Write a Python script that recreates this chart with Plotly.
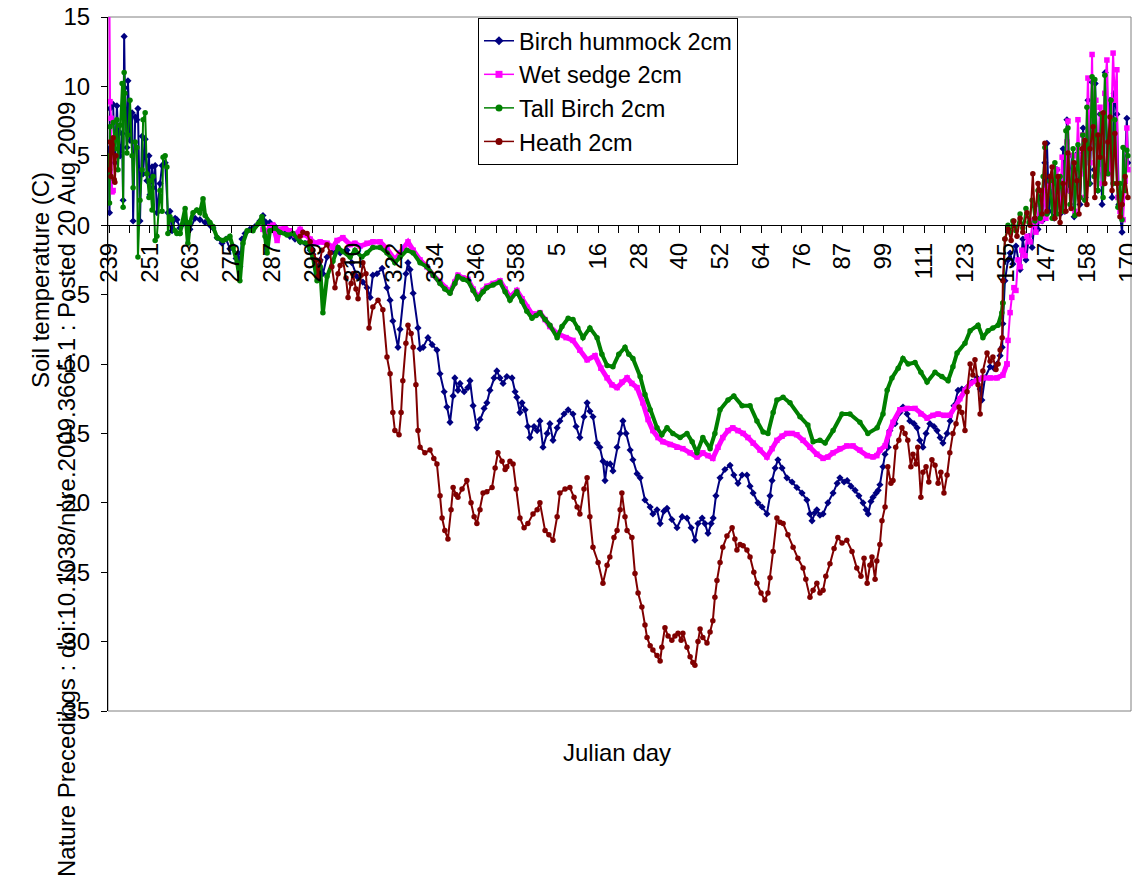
import plotly.graph_objects as go

# ---------------- data (day offset since Julian day 239, temperature in C) ----------------
JULIAN_LABELS = ["239", "251", "263", "275", "287", "299", "310", "322", "334", "346", "358",
                 "5", "16", "28", "40", "52", "64", "76", "87", "99", "111", "123", "135",
                 "147", "158", "170"]
SAMPLES_PER_LABEL = 71      # four-hourly readings between labelled categories
SAMPLES_PER_DAY = 6

Y_TICKS = [15, 10, 5, 0, -5, -10, -15, -20, -25, -30, -35]
Y_TICK_TEXT = ["15", "10", "5", "0", "-5", "-10", "-15", "-20", "-25", "-30", "-35"]

BIRCH_HUMMOCK = [
    (0.0, 5.5), (0.15, 0.9), (0.3, 8.4), (1.2, 8.7), (1.7, 4.5), (2.3, 8.6), (2.6, 6.8), (3.2, 5.0), (3.8, 6.6), (4.1, 1.8),
    (4.4, 13.6), (4.6, 9.9), (5.2, 5.6), (5.5, 10.4), (6.1, 6.1), (6.7, 8.1), (7.0, 0.3), (7.6, 7.8), (8.1, 7.6), (8.4, 8.4),
    (9.0, 0.3), (9.6, 6.4), (9.9, 3.7), (10.5, 6.2), (11.0, 3.2), (11.6, 5.0), (11.9, 2.2), (12.5, 4.2), (12.8, 2.7), (13.4, 4.3),
    (13.9, 0.9), (14.8, 3.0), (15.4, 4.3), (16.3, 4.5), (17.1, 0.9), (17.7, 1.0), (18.3, -0.4), (19.2, 0.5), (19.7, 0.4), (20.6, -0.2),
    (21.5, 0.1), (22.1, 0.2), (23.5, -0.3), (25.0, 0.5), (26.4, 0.4), (27.9, 0.2), (29.3, 0.0), (30.2, -0.2), (31.4, -0.9), (32.8, -1.3),
    (34.0, -1.0), (35.1, -1.7), (36.0, -1.5), (36.9, -2.4), (37.5, -2.0), (38.0, -3.0), (38.6, -1.0), (39.5, -0.6), (40.9, -0.3), (42.4, -0.1),
    (43.8, 0.3), (44.7, 0.7), (45.6, 0.2), (46.7, 0.2), (48.2, -0.1), (49.6, -0.4), (51.1, -0.3), (52.5, -0.8), (54.0, -1.0), (55.5, -1.2),
    (56.9, -1.3), (58.4, -1.8), (59.2, -2.1), (60.4, -3.0), (61.3, -2.5), (62.1, -3.5), (63.3, -2.3), (65.0, -1.9), (66.2, -1.8), (67.1, -2.0),
    (69.1, -1.8), (70.5, -2.7), (72.0, -3.7), (73.7, -4.1), (74.9, -4.5), (75.8, -5.2), (76.6, -3.6), (77.8, -3.5), (79.3, -3.1), (80.7, -4.5),
    (81.6, -5.4), (82.4, -6.9), (83.9, -8.8), (84.5, -7.5), (85.4, -5.2), (86.2, -3.5), (86.8, -2.7), (87.4, -3.2), (88.3, -4.9), (89.7, -7.4),
    (90.3, -8.9), (91.2, -8.8), (92.6, -8.1), (93.8, -8.6), (95.2, -9.0), (96.1, -10.7), (97.3, -12.0), (98.1, -13.1), (99.0, -14.2), (99.9, -12.3),
    (100.4, -11.0), (101.3, -11.9), (101.9, -11.4), (103.1, -12.0), (104.2, -11.7), (104.8, -11.2), (105.7, -13.0), (106.8, -14.6), (107.7, -14.0), (108.9, -13.2),
    (109.7, -12.8), (110.6, -11.9), (111.8, -11.0), (112.6, -10.5), (113.5, -11.0), (114.4, -11.4), (115.5, -10.9), (117.0, -11.0), (117.9, -12.0), (118.4, -12.4),
    (119.3, -13.5), (119.9, -12.8), (120.8, -13.3), (121.6, -14.5), (122.2, -15.3), (123.4, -14.5), (124.3, -14.8), (125.1, -14.1), (126.0, -16.0), (127.2, -15.0),
    (128.0, -14.3), (128.9, -15.5), (130.1, -14.6), (130.9, -14.1), (132.1, -13.6), (133.3, -13.3), (134.7, -13.6), (135.6, -14.5), (136.7, -15.3), (137.9, -13.8),
    (138.8, -12.8), (139.6, -13.4), (140.5, -13.8), (141.7, -15.7), (142.5, -16.0), (143.4, -17.0), (144.0, -18.4), (144.6, -17.2), (145.5, -17.2), (146.3, -17.7),
    (147.5, -16.0), (148.4, -15.0), (149.2, -14.1), (150.1, -15.0), (151.3, -16.2), (152.1, -16.9), (153.3, -17.9), (154.2, -18.2), (155.6, -19.8), (157.1, -20.3),
    (157.9, -20.8), (159.1, -20.5), (160.0, -21.5), (161.1, -20.6), (162.0, -20.4), (163.4, -21.2), (164.9, -21.8), (166.4, -21.0), (167.8, -21.1), (169.0, -21.8),
    (170.1, -22.7), (171.0, -21.5), (172.2, -21.1), (173.0, -21.5), (173.9, -22.2), (174.8, -21.5), (175.4, -21.1), (176.2, -19.5), (177.4, -18.2), (178.8, -17.6),
    (180.3, -17.3), (181.4, -18.0), (182.6, -18.6), (183.8, -18.0), (185.2, -18.0), (186.1, -18.8), (187.0, -19.3), (188.4, -20.0), (189.6, -20.3), (191.0, -20.8),
    (191.9, -19.5), (192.5, -18.4), (193.4, -17.5), (194.2, -16.9), (195.4, -17.5), (196.8, -18.2), (198.3, -18.5), (199.7, -18.9), (201.2, -19.3), (202.6, -19.8),
    (203.5, -20.8), (204.1, -21.3), (205.0, -20.7), (205.5, -20.5), (206.4, -20.9), (207.3, -20.8), (208.7, -20.0), (210.2, -19.3), (211.4, -18.6), (212.2, -18.2),
    (213.4, -18.5), (214.3, -18.4), (215.4, -18.8), (216.6, -19.1), (217.7, -19.5), (218.9, -20.0), (219.8, -20.5), (220.4, -20.8), (221.2, -19.9), (221.8, -19.6),
    (222.7, -19.3), (223.3, -19.1), (223.8, -18.7), (224.7, -17.4), (225.3, -16.5), (226.2, -16.0), (226.7, -14.8), (228.2, -14.3), (229.6, -13.5), (230.5, -13.1),
    (231.7, -13.6), (232.5, -14.1), (233.7, -14.3), (234.6, -14.6), (235.4, -15.5), (236.3, -16.0), (237.2, -15.0), (238.3, -14.3), (239.5, -14.5), (240.4, -14.8),
    (241.3, -15.3), (242.1, -15.7), (243.3, -15.0), (244.2, -14.1), (245.3, -13.0), (246.5, -11.9), (247.6, -11.8), (249.1, -11.7), (250.5, -11.3), (252.0, -11.0),
    (252.9, -11.8), (253.4, -12.6), (254.3, -11.0), (255.8, -10.2), (256.9, -10.3), (257.8, -10.0), (258.7, -9.4), (259.3, -8.8), (259.5, -7.1), (260.1, -4.0),
    (261.0, -2.5), (261.6, -2.0), (262.4, -2.8), (263.3, -1.5), (264.5, -3.2), (265.3, -1.0), (266.2, -2.5), (267.1, -0.8), (268.0, -1.6), (268.8, 0.5),
    (269.7, -0.3), (270.3, 2.0), (270.9, 0.3), (271.7, 4.5), (272.3, 5.9), (272.9, 1.0), (273.8, 3.2), (274.4, 0.5), (275.2, 4.0), (276.1, 0.8),
    (277.0, 5.5), (277.5, 1.0), (278.1, 7.6), (278.7, 2.5), (279.6, 5.0), (280.2, 0.6), (281.3, 5.2), (281.9, 1.5), (282.8, 7.0), (283.4, 2.0),
    (284.2, 9.0), (284.8, 3.0), (285.4, 10.3), (286.0, 4.0), (286.3, 10.2), (287.1, 2.5), (287.7, 8.0), (288.3, 1.5), (289.2, 11.0), (289.7, 4.0),
    (290.6, 9.0), (291.2, 2.0), (291.8, 9.5), (292.6, 8.0), (293.2, 1.5), (294.1, -0.5), (294.7, 3.0), (295.5, 7.7), (295.8, 4.5),
]

WET_SEDGE = [
    (0.1, 17.0), (0.3, 8.9), (0.6, 7.7), (0.9, 2.4), (1.2, 2.5), (20.0, None),
    (44.7, -0.3), (45.9, -0.5), (46.7, -0.1), (47.6, 0.0), (48.8, -1.1), (49.6, -0.3), (51.1, -0.2), (52.5, -0.4), (54.0, -0.7), (55.5, -0.3),
    (56.9, -0.7), (58.4, -1.0), (59.8, -1.3), (61.3, -1.2), (63.3, -1.3), (65.0, -1.6), (66.2, -1.1), (67.9, -0.9), (70.0, -1.4), (71.4, -1.3),
    (72.9, -1.5), (74.9, -1.3), (76.6, -1.2), (78.7, -1.2), (80.7, -1.7), (83.0, -2.5), (84.5, -2.0), (86.8, -1.2), (88.3, -1.8), (90.3, -2.5),
    (92.3, -3.0), (94.1, -3.6), (96.1, -4.1), (97.5, -4.5), (99.0, -4.8), (100.4, -4.1), (101.3, -3.6), (102.8, -3.8), (104.2, -3.9), (105.7, -4.6),
    (107.1, -5.2), (108.6, -4.7), (109.7, -4.4), (111.5, -4.2), (113.5, -4.0), (115.0, -4.6), (116.4, -5.2), (118.4, -4.7), (119.9, -5.3), (121.3, -5.9),
    (122.8, -6.4), (124.0, -6.4), (125.1, -6.3), (126.6, -6.8), (128.0, -7.3), (130.1, -7.8), (132.7, -8.1), (134.7, -8.3), (136.7, -9.0), (138.8, -9.7),
    (141.1, -9.4), (142.8, -10.3), (144.6, -11.0), (146.0, -11.5), (147.5, -11.7), (148.9, -11.3), (150.4, -11.0), (151.8, -11.4), (153.3, -11.7), (155.0, -12.8),
    (156.5, -14.0), (157.9, -14.8), (159.4, -15.3), (160.8, -15.6), (162.9, -15.8), (164.9, -16.0), (166.6, -16.1), (168.7, -16.4), (170.7, -16.7), (172.4, -16.4),
    (173.9, -16.6), (175.3, -16.8), (176.8, -16.0), (178.2, -15.3), (179.7, -14.8), (181.1, -14.6), (182.6, -14.8), (184.1, -15.0), (185.5, -15.3), (187.0, -15.7),
    (189.0, -16.2), (191.0, -16.7), (192.5, -16.1), (193.9, -15.5), (195.4, -15.2), (196.8, -15.0), (198.3, -15.0), (199.7, -15.1), (201.5, -15.5), (203.5, -16.0),
    (205.5, -16.5), (207.3, -16.8), (208.7, -16.7), (210.2, -16.4), (212.2, -16.1), (214.2, -15.9), (216.0, -15.9), (218.0, -16.2), (220.1, -16.6), (221.8, -16.7),
    (222.9, -16.6), (223.8, -16.2), (225.3, -15.9), (226.4, -15.0), (227.6, -14.2), (229.6, -13.3), (231.7, -13.2), (234.0, -13.2), (235.7, -13.6), (237.5, -13.9),
    (239.2, -13.7), (240.7, -13.6), (242.4, -13.7), (244.1, -13.7), (245.6, -13.1), (247.0, -12.5), (248.5, -11.9), (250.0, -11.4), (252.0, -11.2), (253.7, -11.0),
    (255.8, -11.0), (257.8, -11.0), (259.5, -10.8), (260.7, -10.0), (261.0, -8.3), (261.6, -6.3), (262.1, -5.2), (262.7, -4.5), (263.3, -4.7), (263.9, -2.5),
    (264.5, -3.0), (265.0, -1.8), (265.9, -2.2), (266.5, -0.8), (267.4, -1.2), (268.2, 0.3), (269.1, -0.5), (270.0, 1.5), (270.6, 0.3), (271.4, 2.5),
    (272.0, 0.5), (272.9, 2.8), (273.8, 3.0), (274.3, 1.0), (275.2, 4.0), (276.1, 1.5), (276.7, 4.9), (277.2, 1.0), (278.1, 6.0), (278.4, 7.5),
    (279.0, 2.5), (279.9, 5.0), (280.4, 1.0), (281.3, 7.6), (281.9, 3.7), (282.7, 6.5), (283.3, 2.0), (284.2, 10.6), (284.8, 4.5), (285.4, 12.3),
    (285.7, 6.1), (286.5, 9.0), (287.1, 4.0), (287.7, 8.5), (288.3, 3.0), (289.1, 9.5), (289.7, 11.9), (290.6, 3.7), (291.5, 12.4), (292.0, 9.0),
    (292.6, 11.2), (292.9, 2.0), (293.5, 1.0), (294.4, 0.4), (295.0, 3.2), (295.5, 7.0), (295.8, 4.0),
]

TALL_BIRCH = [
    (0.0, 5.0), (0.15, 1.6), (0.3, 7.1), (1.2, 7.4), (1.7, 5.5), (2.3, 7.6), (2.6, 4.0), (3.2, 7.2), (3.8, 10.2), (4.1, 1.3),
    (4.4, 11.0), (4.6, 9.5), (5.2, 5.2), (5.5, 6.5), (6.1, 9.0), (6.7, 5.0), (7.0, 2.7), (7.6, 6.0), (8.1, 5.6), (8.4, -2.3),
    (9.0, 1.8), (9.6, 4.0), (9.9, 7.6), (10.5, 8.1), (11.0, 3.7), (11.6, 2.0), (11.9, 3.2), (12.5, 1.1), (12.8, 3.5), (13.4, -1.1),
    (13.9, -0.8), (14.8, 2.5), (15.4, 1.0), (15.7, 4.9), (16.3, 5.0), (16.8, 4.2), (17.1, -0.6), (17.7, 0.6), (18.3, 0.4), (19.2, -0.4),
    (19.7, -0.6), (20.6, -0.6), (22.1, 1.2), (22.9, -1.3), (23.5, 0.2), (24.4, 0.9), (25.5, 1.1), (26.4, 0.9), (27.3, 1.9), (27.9, 0.7),
    (29.3, 0.2), (30.2, -0.1), (31.4, -0.9), (33.1, -1.1), (34.0, -1.0), (35.1, -0.8), (36.0, -1.6), (37.2, -2.7), (38.0, -4.0), (38.9, -1.3),
    (40.1, -0.4), (41.8, -0.4), (43.3, 0.1), (44.4, 0.6), (45.3, -0.8), (45.9, -2.0), (46.7, -0.4), (48.2, -0.2), (49.6, -0.5), (51.7, -0.7),
    (53.4, -0.6), (55.5, -1.2), (57.5, -1.3), (59.2, -2.3), (60.4, -4.0), (61.3, -3.0), (62.1, -6.3), (63.3, -3.7), (65.0, -2.6), (66.5, -1.6),
    (67.9, -1.9), (70.0, -2.3), (71.4, -1.8), (73.4, -2.3), (74.9, -2.0), (76.6, -1.6), (78.7, -1.6), (80.7, -2.0), (83.0, -2.7), (84.5, -2.3),
    (86.5, -1.8), (88.3, -2.0), (90.3, -2.7), (92.3, -3.0), (94.1, -3.6), (96.1, -4.2), (97.5, -4.6), (99.0, -4.9), (100.4, -4.2), (101.3, -3.7),
    (102.8, -3.9), (104.2, -4.0), (105.7, -4.7), (107.1, -5.3), (108.6, -4.8), (109.7, -4.5), (111.5, -4.3), (113.5, -4.1), (115.0, -4.8), (116.4, -5.4),
    (118.4, -4.8), (119.9, -5.5), (121.3, -6.2), (122.8, -6.7), (124.0, -6.5), (125.1, -6.3), (126.6, -6.8), (128.0, -7.2), (130.1, -8.1), (131.5, -7.3),
    (133.3, -6.7), (134.7, -6.8), (136.1, -7.4), (137.6, -8.1), (139.6, -7.4), (141.7, -8.1), (143.1, -9.3), (144.6, -10.1), (146.3, -10.2), (148.0, -9.3),
    (149.8, -8.8), (150.9, -9.3), (152.1, -9.6), (154.2, -10.9), (155.6, -12.2), (157.1, -13.3), (159.1, -14.6), (160.5, -15.1), (162.0, -14.6), (163.7, -15.0),
    (165.8, -15.3), (167.8, -15.0), (169.3, -15.6), (170.7, -16.4), (172.4, -15.3), (174.5, -16.1), (175.9, -15.0), (177.4, -13.3), (179.7, -12.6), (181.4, -12.3),
    (183.8, -13.0), (186.1, -13.0), (188.1, -14.1), (189.9, -14.9), (191.3, -15.0), (192.8, -13.5), (193.9, -12.6), (195.7, -12.4), (197.7, -12.8), (200.6, -13.8),
    (202.9, -14.4), (204.4, -15.6), (206.4, -15.5), (207.9, -15.7), (210.2, -14.8), (212.8, -13.6), (215.1, -13.6), (218.0, -14.2), (220.3, -15.0), (223.0, -14.6),
    (224.7, -13.6), (225.9, -11.9), (227.3, -11.0), (229.1, -10.3), (230.5, -9.6), (232.0, -10.0), (234.0, -9.9), (235.7, -10.6), (237.5, -11.3), (239.8, -10.6),
    (241.8, -10.9), (243.6, -11.2), (245.0, -10.2), (246.2, -9.2), (248.5, -8.5), (250.0, -7.6), (252.3, -7.2), (253.7, -8.1), (255.2, -7.6), (256.6, -7.4),
    (258.1, -7.2), (259.2, -6.3), (259.5, -5.6), (260.1, -1.0), (261.0, 0.0), (261.6, -0.5), (262.4, 0.3), (263.3, -0.4), (264.5, 0.8), (265.3, -0.2),
    (266.2, 1.2), (267.1, 0.2), (268.0, 1.8), (268.8, 0.3), (269.7, 2.5), (270.3, 0.5), (271.2, 3.5), (271.7, 5.6), (272.3, 0.8), (273.2, 3.2),
    (273.8, 0.5), (274.6, 4.5), (275.2, 0.8), (276.1, 3.5), (277.0, 1.0), (277.8, 6.8), (278.4, 7.0), (279.0, 1.5), (279.9, 5.5), (280.4, 0.7),
    (281.3, 5.8), (281.9, 2.0), (282.7, 6.5), (283.3, 1.8), (283.9, 8.5), (284.5, 3.0), (285.4, 10.7), (286.0, 3.5), (286.2, 10.5), (287.1, 2.5),
    (288.0, 8.0), (288.6, 2.0), (289.1, 10.8), (290.0, 3.7), (290.9, 9.0), (291.5, 3.0), (292.0, 7.6), (292.9, 1.3), (293.5, 3.0), (294.1, 0.4),
    (294.4, 5.6), (295.0, 2.5), (295.5, 5.4), (295.8, 5.0),
]

HEATH = [
    (0.15, 4.0), (0.3, 6.0), (0.6, 3.5), (0.9, 5.8), (1.2, 6.3), (1.5, 3.3), (1.7, 3.1), (2.0, 5.0), (20.0, None),
    (55.5, -0.8), (56.3, -0.5), (57.5, -0.6), (58.4, -1.2), (59.2, -1.8), (60.1, -2.5), (60.7, -3.7), (61.3, -2.6), (61.8, -1.8), (63.3, -1.4),
    (64.2, -2.0), (64.7, -3.0), (65.6, -4.5), (66.5, -3.5), (67.1, -2.9), (67.9, -2.5), (68.8, -3.8), (69.4, -5.2), (70.3, -4.2), (70.8, -3.5),
    (71.7, -4.6), (72.3, -5.3), (73.2, -3.6), (73.7, -2.7), (74.6, -3.5), (75.5, -7.4), (76.6, -5.9), (78.1, -5.4), (79.5, -6.1), (80.7, -9.5),
    (81.6, -10.7), (82.4, -13.5), (83.0, -14.8), (84.2, -15.1), (84.8, -13.5), (85.3, -11.2), (86.2, -8.5), (86.8, -7.2), (87.7, -7.8), (88.3, -8.8),
    (89.1, -11.5), (89.7, -14.8), (90.3, -16.0), (91.7, -16.4), (93.2, -16.2), (94.3, -16.8), (95.2, -17.2), (96.1, -19.5), (96.7, -21.1), (97.5, -22.0),
    (98.4, -22.6), (99.3, -20.5), (99.9, -18.9), (100.7, -19.4), (101.3, -19.6), (102.5, -19.0), (103.9, -18.4), (105.1, -20.0), (106.0, -21.0), (106.8, -21.5),
    (107.7, -20.5), (108.6, -19.3), (109.7, -19.2), (111.2, -18.9), (112.1, -17.5), (112.9, -16.4), (114.1, -17.0), (115.0, -17.6), (115.5, -17.4), (116.4, -17.0),
    (117.3, -17.2), (118.2, -19.0), (119.3, -21.1), (120.5, -21.8), (121.6, -21.5), (123.1, -20.8), (124.3, -20.5), (125.1, -20.0), (126.6, -22.0), (127.7, -22.3),
    (128.9, -22.7), (130.1, -21.0), (130.9, -19.3), (132.4, -19.0), (133.8, -18.9), (135.0, -19.6), (135.9, -20.3), (136.7, -20.8), (137.9, -19.0), (138.8, -18.2),
    (139.6, -21.0), (140.5, -23.2), (142.0, -24.3), (143.4, -25.8), (144.6, -24.5), (145.4, -23.9), (146.6, -22.5), (147.5, -22.0), (148.4, -20.5), (148.9, -19.3),
    (149.8, -21.0), (150.4, -22.0), (151.8, -22.5), (152.7, -25.1), (153.6, -26.5), (154.7, -27.5), (155.6, -28.8), (156.2, -29.7), (157.1, -30.3), (157.9, -30.6),
    (159.1, -31.0), (160.0, -31.4), (160.5, -30.4), (161.4, -29.0), (162.3, -29.6), (163.4, -29.9), (164.3, -29.6), (165.2, -29.4), (166.1, -29.9), (166.6, -29.4),
    (167.8, -30.4), (168.7, -31.1), (169.5, -31.5), (170.1, -31.7), (171.0, -30.0), (171.6, -29.1), (172.4, -29.7), (173.6, -30.1), (174.5, -29.3), (175.3, -28.5),
    (175.9, -26.8), (176.5, -25.6), (177.4, -24.3), (178.2, -23.2), (179.4, -22.4), (180.9, -21.8), (181.7, -22.6), (182.3, -23.4), (183.2, -23.0), (184.1, -23.1),
    (185.2, -23.4), (186.1, -23.9), (187.2, -25.0), (188.1, -25.8), (189.3, -26.5), (190.4, -27.0), (191.3, -26.5), (191.9, -25.4), (192.8, -23.5), (193.9, -21.1),
    (194.8, -21.4), (195.7, -21.5), (197.1, -22.3), (198.6, -23.2), (200.0, -24.0), (201.5, -24.7), (202.3, -25.5), (203.5, -26.8), (204.4, -26.3), (205.5, -25.8),
    (206.4, -26.5), (207.3, -26.3), (208.1, -25.3), (209.3, -24.4), (210.5, -23.3), (211.6, -22.5), (212.8, -22.9), (214.2, -22.7), (215.7, -23.5), (217.1, -24.7),
    (218.3, -25.3), (219.2, -24.0), (220.1, -25.8), (220.9, -24.5), (221.5, -23.9), (222.4, -25.5), (222.9, -24.2), (223.8, -23.0), (224.4, -21.3), (225.3, -20.3),
    (226.1, -17.4), (227.0, -18.6), (227.6, -18.4), (228.4, -16.0), (229.3, -15.5), (230.2, -14.6), (231.1, -15.0), (231.9, -15.5), (232.8, -17.4), (233.4, -16.5),
    (234.3, -17.2), (234.8, -16.0), (235.7, -19.6), (236.3, -17.8), (237.2, -17.4), (238.0, -18.5), (238.9, -16.9), (239.8, -17.3), (240.7, -18.6), (241.5, -17.8),
    (242.4, -19.3), (243.3, -18.0), (244.1, -16.4), (245.0, -15.0), (245.9, -14.3), (246.8, -13.1), (247.6, -13.5), (248.5, -14.8), (249.1, -12.0), (250.0, -10.0),
    (250.8, -10.8), (251.4, -9.7), (252.3, -11.5), (252.9, -13.6), (253.7, -10.5), (254.9, -9.2), (255.8, -9.8), (256.6, -9.5), (257.5, -10.4), (258.1, -10.0),
    (258.7, -9.0), (259.3, -8.1), (259.5, -4.0), (260.1, -1.0), (261.0, -0.3), (261.9, -1.1), (262.7, 0.3), (263.6, -0.8), (264.5, 0.5), (265.3, -0.5),
    (266.5, 0.9), (267.4, 0.0), (268.2, 3.7), (268.8, 0.5), (269.7, 3.0), (270.3, 2.5), (270.9, 0.8), (271.7, 5.9), (272.3, 1.0), (273.2, 3.5),
    (273.8, 4.2), (274.6, 0.5), (275.5, 3.5), (276.1, 0.2), (277.0, 3.0), (277.8, 1.0), (278.4, 5.2), (279.3, 1.2), (280.2, 4.5), (281.0, 3.2),
    (281.6, 0.8), (282.5, 5.5), (283.3, 6.1), (283.9, 1.5), (284.8, 5.5), (285.7, 7.1), (286.2, 2.0), (287.1, 6.5), (287.7, 4.9), (288.6, 8.1),
    (289.1, 3.0), (290.0, 6.0), (290.6, 7.8), (291.2, 2.5), (292.0, 6.6), (292.6, 3.0), (293.5, 0.6), (294.1, 1.5), (295.0, 3.5), (295.8, 2.0),
]

# ---------------- styling ----------------
FONT = "Liberation Sans, Arial, sans-serif"
# name, data, colour, marker, (thick-period start, end, width) -- dense readings in the
# slowly varying winter period overlap into a solid band for the two upper series
SERIES = [
    ("Birch hummock 2cm", BIRCH_HUMMOCK, "#000080", "diamond", None),
    ("Wet sedge 2cm", WET_SEDGE, "#FF00FF", "square", (44.0, 260.8, 5.0)),
    ("Tall Birch 2cm", TALL_BIRCH, "#008000", "circle", (22.0, 259.6, 4.0)),
    ("Heath 2cm", HEATH, "#800000", "circle", None),
]
THIN_WIDTH = 2.0
MARKER_SIZE = 5.5

fig = go.Figure()
for name, pts, color, symbol, thick in SERIES:
    if thick is None:
        segments = [(pts, THIN_WIDTH)]
    else:
        a, b, w = thick
        before = [p for p in pts if p[0] <= a]
        middle = [p for p in pts if a <= p[0] <= b]
        after = [p for p in pts if p[0] >= b]
        # share boundary points so the line stays continuous
        if middle and before and before[-1][1] is not None:
            middle = [before[-1]] + middle
        if middle and after:
            after = [middle[-1]] + after
        segments = [(before, THIN_WIDTH), (middle, w), (after, THIN_WIDTH)]
    for seg, lw in segments:
        if not seg:
            continue
        fig.add_trace(go.Scatter(
            x=[p[0] for p in seg], y=[p[1] for p in seg],
            mode="lines+markers", name=name, showlegend=False,
            line=dict(color=color, width=lw),
            marker=dict(symbol=symbol, size=MARKER_SIZE, color=color, line=dict(width=0)),
            connectgaps=False, hoverinfo="skip",
        ))
for name, pts, color, symbol, thick in SERIES:
    fig.add_trace(go.Scatter(
        x=[None], y=[None], mode="lines+markers", name=name,
        line=dict(color=color, width=1.5),
        marker=dict(symbol=symbol, size=7, color=color),
    ))

# category ticks: labelled every SAMPLES_PER_LABEL readings, minor marks halfway
step = SAMPLES_PER_LABEL / SAMPLES_PER_DAY
tickvals, ticktext = [], []
for i, lab in enumerate(JULIAN_LABELS):
    tickvals.append(i * step)
    ticktext.append(lab)
    if i < len(JULIAN_LABELS) - 1:
        tickvals.append((i + 0.5) * step)
        ticktext.append("")

W, H = 1132, 890
ML, MR, MT, MB = 108, 1, 17, 179
pw = W - ML - MR
ph = H - MT - MB


def px_x(x):
    return (x - ML) / pw


def px_y(y):
    return 1 - (y - MT) / ph


fig.update_layout(
    width=W, height=H,
    margin=dict(l=ML, r=MR, t=MT, b=MB, pad=0),
    paper_bgcolor="white", plot_bgcolor="white",
    font=dict(family=FONT, size=24, color="black"),
    showlegend=True,
    legend=dict(
        x=px_x(478), y=px_y(18), xanchor="left", yanchor="top",
        bgcolor="white", bordercolor="black", borderwidth=1,
        font=dict(family=FONT, size=23.5, color="black"),
        tracegroupgap=0, itemwidth=30,
    ),
    xaxis=dict(
        range=[-(1 / 3.4446), 296.7],
        anchor="free", position=35 / 50,
        showline=True, linecolor="black", linewidth=1,
        ticks="outside", ticklen=7, tickcolor="black", tickwidth=1,
        tickmode="array", tickvals=tickvals, ticktext=ticktext,
        tickangle=-90, tickfont=dict(family=FONT, size=24, color="black"),
        ticklabeloverflow="allow",
        showgrid=False, zeroline=False, automargin=False,
    ),
    yaxis=dict(
        range=[-35, 15],
        showline=True, linecolor="black", linewidth=1,
        ticks="outside", ticklen=6, tickcolor="black", tickwidth=1,
        ticklabelstandoff=6,
        tickmode="array", tickvals=Y_TICKS, ticktext=Y_TICK_TEXT,
        tickfont=dict(family=FONT, size=24, color="black"),
        showgrid=False, zeroline=False, automargin=False,
    ),
    shapes=[dict(type="rect", xref="paper", yref="paper", x0=0, x1=1, y0=0, y1=1,
                 line=dict(color="#808080", width=1), layer="below")],
    annotations=[
        dict(text="Julian day", xref="paper", yref="paper",
             x=px_x(617), y=px_y(752),
             xanchor="center", yanchor="middle", showarrow=False,
             font=dict(family=FONT, size=24, color="black")),
        dict(text="Soil temperature (C)", xref="paper", yref="paper",
             x=px_x(40), y=px_y(280), textangle=-90,
             xanchor="center", yanchor="middle", showarrow=False,
             font=dict(family=FONT, size=24, color="black")),
        dict(text="Nature Precedings : doi:10.1038/npre.2009.3665.1 : Posted 20 Aug 2009",
             xref="paper", yref="paper",
             x=px_x(66), y=px_y(490), textangle=-90,
             xanchor="center", yanchor="middle", showarrow=False,
             font=dict(family=FONT, size=24, color="black")),
    ],
)

fig.write_html(
    "out.html",
    config={"displayModeBar": False},
    post_script="document.body.style.margin='0';document.body.style.overflow='hidden';",
)
